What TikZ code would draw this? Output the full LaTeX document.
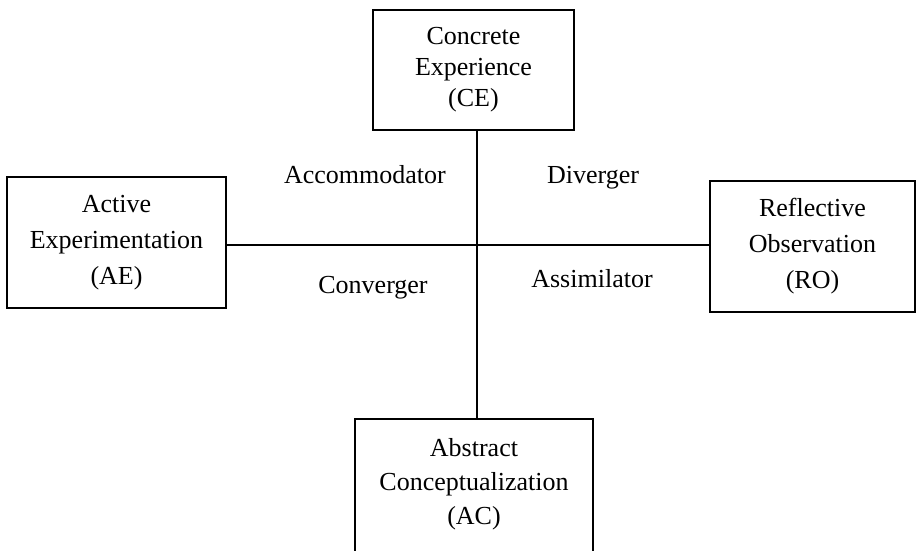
\documentclass[tikz,border=0pt]{standalone}
\usepackage{fontspec}
\setmainfont{Liberation Serif}
\begin{document}
\begin{tikzpicture}[x=1pt,y=-1pt,
  box/.style={draw, line width=1.2pt, align=center, inner sep=0pt},
  lbl/.style={anchor=base, inner sep=0pt, font=\fontsize{26}{30}\selectfont},
  axis/.style={line width=1.4pt}]
\useasboundingbox (0,0) rectangle (916,551);
\clip (0,0) rectangle (916,551);
\node[box, minimum width=201pt, minimum height=120pt, font=\fontsize{26}{31}\selectfont] (CE) at (473.5,70) {Concrete\\Experience\\(CE)};
\node[box, minimum width=219pt, minimum height=131pt, font=\fontsize{26}{36}\selectfont] (AE) at (116.5,242.5) {Active\\Experimentation\\(AE)};
\node[box, minimum width=205pt, minimum height=131pt, font=\fontsize{26}{36}\selectfont] (RO) at (812.5,246.5) {Reflective\\Observation\\(RO)};
\node[box, minimum width=238pt, minimum height=150pt] (AC) at (474,494) {};
\node[align=center, inner sep=0pt, font=\fontsize{26}{34}\selectfont] (ACt) at (474,484) {Abstract\\Conceptualization\\(AC)};
\coordinate (c) at (477,245);
\draw[axis] (c |- CE.south) -- (c |- AC.north);
\draw[axis] (c -| AE.east) -- (c -| RO.west);
\node[lbl] (acc) at (365,183) {Accommodator};
\node[lbl] (div) at (593,183) {Diverger};
\node[lbl] (con) at (373,293) {Converger};
\node[lbl] (ass) at (592,287) {Assimilator};
\end{tikzpicture}
\end{document}
